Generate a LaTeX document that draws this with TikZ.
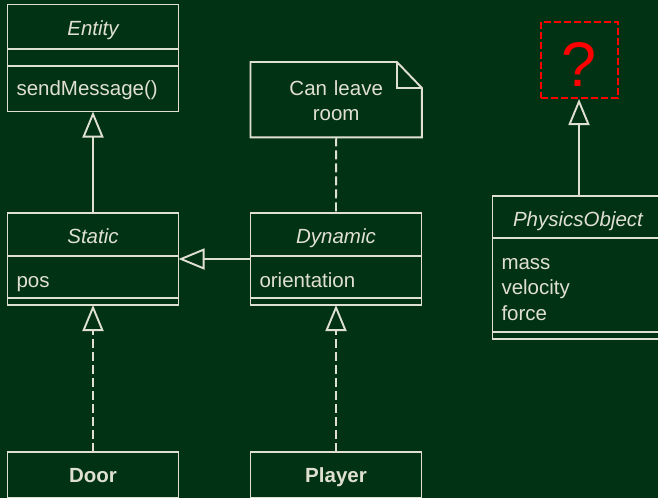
\documentclass[tikz,border=0pt]{standalone}
\usepackage{fontspec}
\setmainfont{Liberation Sans}
\usetikzlibrary{arrows.meta}
\definecolor{board}{RGB}{2,50,20}
\definecolor{chalk}{RGB}{224,224,208}
\definecolor{qred}{RGB}{255,0,0}

\begin{document}
\begin{tikzpicture}[x=1pt,y=-1pt,
  every node/.style={font=\fontsize{20.5}{25.5}\selectfont, text=chalk},
  part/.style={draw=chalk, line width=1.9pt, minimum width=171pt, inner sep=0pt,
    outer sep=0pt, anchor=north west},
  % baseline sits (#1/2) below the compartment centre
  drop/.style={text height=#1, text depth=0pt},
  attrs/.style={part, text width=153pt, inner xsep=9pt, align=left},
  gen/.style={draw=chalk, line width=1.9pt,
    -{Triangle[open, length=26pt, width=21pt]}},
  link/.style={draw=chalk, line width=1.9pt},
  dashline/.style={dash pattern=on 9pt off 4pt}
]
\useasboundingbox (0,0) rectangle (658,498);
\fill[board] (0,0) rectangle (658,498);
\clip (0,0) rectangle (658,497);

% Entity
\node[part, drop=18pt, minimum height=44.5pt] (entH) at (7.5,4.5) {\itshape Entity};
\node[part, minimum height=17pt] (entA) at (entH.south west) {};
\node[attrs, drop=14pt, minimum height=45.5pt] (entO) at (entA.south west) {sendMessage()};

% Static
\node[part, drop=18pt, minimum height=43pt] (statH) at (7.5,213) {\itshape Static};
\node[attrs, drop=20pt, minimum height=42pt] (statA) at (statH.south west) {pos};
\node[part, minimum height=7pt] (statO) at (statA.south west) {};

% Dynamic
\node[part, drop=18pt, minimum height=43pt] (dynH) at (250.5,213) {\itshape Dynamic};
\node[attrs, drop=20pt, minimum height=42pt] (dynA) at (dynH.south west) {orientation};
\node[part, minimum height=7pt] (dynO) at (dynA.south west) {};

% Door and Player
\node[part, drop=14pt, minimum height=46pt] (door) at (7.5,452) {\bfseries Door};
\node[part, drop=14pt, minimum height=46pt] (player) at (250.5,452) {\bfseries Player};

% PhysicsObject
\node[part, drop=18pt, minimum height=42pt] (physH) at (492.5,196) {\itshape PhysicsObject};
\node[attrs, text height=0pt, text depth=32pt, minimum height=94pt] (physA)
  at (physH.south west) {mass\\velocity\\force};
\node[part, minimum height=7pt] (physO) at (physA.south west) {};

% Unknown parent
\node[draw=qred, line width=2pt, dash pattern=on 7pt off 3pt, minimum width=77pt,
  minimum height=76pt, inner sep=0pt, anchor=north west, text=qred, drop=52pt,
  font=\fontsize{63}{63}\selectfont] (q) at (539.5,21) {?};

% Note
\node[minimum width=171pt, minimum height=75pt, inner sep=0pt, anchor=north west,
  text width=171pt, align=center, text height=0pt, text depth=9pt] (note)
  at (250.5,62) {Can leave\\room};
\draw[link] (note.north west) -- ([xshift=-25pt]note.north east)
  -- ([yshift=-26pt]note.north east) -- (note.south east)
  -- (note.south west) -- cycle;
\draw[link] ([xshift=-25pt]note.north east) |- ([yshift=-26pt]note.north east);

% Connectors
\draw[gen] (statH.north) -- (entO.south);
\draw[gen] ([yshift=-3pt]dynH.south west) -- ([yshift=-3pt]statH.south east);
\draw[gen, dashline] (door.north) -- (statO.south);
\draw[gen, dashline] (player.north) -- (dynO.south);
\draw[link, dashline] (note.south) -- (dynH.north);
\draw[gen] (q.south |- physH.north) -- (q.south);
\end{tikzpicture}
\end{document}
